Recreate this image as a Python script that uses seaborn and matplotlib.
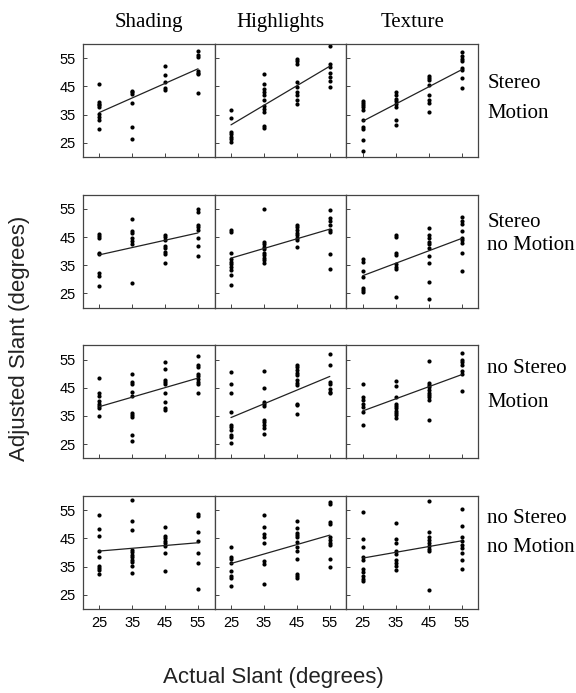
import matplotlib
matplotlib.use("Agg")
import matplotlib.pyplot as plt
import seaborn as sns
import pandas as pd

# actual slant levels (x) and panel layout
actual = [25, 35, 45, 55]
cues = ["Shading", "Highlights", "Texture"]
displays = ["Stereo Motion", "Stereo no Motion", "no Stereo Motion", "no Stereo no Motion"]
row_lines = [("Stereo", "Motion"), ("Stereo", "no Motion"),
             ("no Stereo", "Motion"), ("no Stereo", "no Motion")]

# adjusted slant readings, one sub-list per actual slant level
sm_shading = [
    [45.9, 39.4, 38.9, 38.3, 37.7, 35.1, 34.2, 33.2, 30.0],
    [43.5, 43.0, 42.4, 39.1, 30.7, 26.3],
    [52.3, 49.0, 46.5, 44.5, 43.8],
    [57.6, 56.2, 55.5, 50.6, 49.6, 49.2, 42.6],
]
sm_highlights = [
    [36.5, 33.6, 28.9, 28.1, 27.2, 26.2, 25.4],
    [49.4, 45.9, 44.1, 43.0, 41.8, 40.3, 37.9, 37.1, 35.9, 30.9, 30.1],
    [54.6, 53.8, 52.9, 46.5, 44.7, 43.0, 41.8, 40.3, 38.6],
    [59.3, 52.9, 51.7, 49.6, 48.2, 47.0, 44.9],
]
sm_texture = [
    [39.8, 39.1, 38.3, 37.5, 36.5, 33.2, 30.7, 29.7, 26.0, 21.9],
    [43.0, 41.8, 40.6, 39.8, 38.6, 37.7, 33.2, 31.3],
    [48.8, 48.0, 47.3, 45.6, 41.8, 40.3, 39.1, 35.9],
    [57.0, 55.8, 54.6, 53.8, 51.5, 50.8, 48.0, 44.5],
]
snm_shading = [
    [46.1, 45.3, 44.5, 39.4, 38.9, 32.1, 31.3, 27.7],
    [51.5, 47.3, 46.5, 44.5, 43.5, 42.6, 28.6],
    [45.9, 44.9, 44.1, 41.8, 41.0, 39.7, 38.9, 35.7],
    [55.0, 53.8, 49.4, 48.5, 47.6, 44.7, 41.8, 38.3],
]
snm_highlights = [
    [47.6, 46.8, 39.4, 37.1, 36.3, 35.4, 34.4, 33.2, 31.6, 28.1],
    [55.0, 43.3, 42.4, 41.4, 40.6, 39.4, 38.6, 37.7, 36.8, 35.8],
    [49.4, 48.5, 47.6, 46.5, 45.6, 44.7, 43.8, 41.4],
    [54.6, 51.7, 50.8, 49.4, 47.6, 46.8, 39.1, 33.6],
]
snm_texture = [
    [37.1, 36.3, 32.8, 30.7, 26.9, 26.2, 25.4],
    [45.9, 44.9, 39.4, 38.6, 35.4, 34.4, 33.6, 23.7],
    [48.2, 45.6, 44.7, 43.3, 42.4, 41.2, 38.3, 35.8, 28.9, 23.1],
    [52.0, 50.8, 49.6, 47.3, 44.7, 43.8, 43.0, 39.4, 32.8],
]
nsm_shading = [
    [48.6, 43.0, 42.0, 40.4, 39.4, 38.5, 37.7, 35.0],
    [50.0, 47.0, 46.5, 43.5, 42.0, 36.2, 35.4, 34.5, 28.3, 26.0],
    [54.3, 51.7, 47.9, 47.0, 46.2, 43.2, 40.0, 37.7, 37.1],
    [56.2, 53.2, 52.3, 50.0, 49.0, 48.2, 47.0, 46.2, 43.2],
]
nsm_highlights = [
    [50.6, 46.2, 43.2, 36.5, 31.8, 31.0, 30.1, 28.3, 27.5, 25.4],
    [51.1, 44.9, 40.0, 39.2, 38.5, 33.6, 32.7, 31.8, 30.7, 28.7],
    [53.2, 52.3, 51.4, 50.2, 49.4, 47.6, 46.7, 45.9, 39.4, 38.9, 35.7],
    [56.8, 52.9, 47.0, 46.2, 44.4, 43.5, 43.0],
]
nsm_texture = [
    [46.2, 41.8, 40.8, 39.4, 38.3, 36.5, 31.8],
    [47.3, 45.5, 41.8, 39.4, 38.5, 37.7, 36.8, 36.2, 35.4, 34.2],
    [54.6, 46.7, 45.9, 45.1, 44.1, 43.2, 42.4, 41.6, 40.6, 33.4],
    [57.2, 54.9, 54.1, 53.2, 50.9, 50.0, 43.9],
]
nsnm_shading = [
    [53.2, 48.2, 45.9, 40.7, 38.3, 35.4, 34.5, 33.7, 32.5],
    [58.7, 51.3, 48.0, 41.0, 40.1, 39.2, 38.4, 37.5, 36.5, 35.4, 32.8],
    [49.2, 45.9, 45.1, 44.2, 43.3, 42.4, 40.0, 33.4],
    [53.8, 52.9, 47.4, 44.1, 39.8, 36.3, 27.2],
]
nsnm_highlights = [
    [41.9, 38.6, 37.7, 36.3, 33.4, 31.6, 31.0, 28.1],
    [53.2, 48.9, 46.6, 45.6, 43.5, 36.9, 36.1, 28.9],
    [51.3, 48.6, 47.0, 46.2, 45.4, 43.9, 41.9, 40.7, 37.7, 32.5, 31.6, 31.0],
    [57.9, 57.1, 50.9, 50.3, 45.4, 44.5, 43.5, 42.7, 37.7, 34.9],
]
nsnm_texture = [
    [54.4, 44.7, 41.9, 38.4, 37.5, 34.2, 33.0, 31.6, 30.7, 29.9],
    [50.6, 44.7, 43.5, 40.4, 39.6, 37.5, 36.3, 35.4, 33.9],
    [58.3, 47.4, 45.4, 44.5, 43.3, 42.4, 41.2, 40.4, 26.9],
    [55.6, 49.4, 45.4, 44.2, 42.7, 41.5, 40.0, 37.2, 34.2],
]

panels = [
    [sm_shading, sm_highlights, sm_texture],
    [snm_shading, snm_highlights, snm_texture],
    [nsm_shading, nsm_highlights, nsm_texture],
    [nsnm_shading, nsnm_highlights, nsnm_texture],
]

rows = []
for disp, row in zip(displays, panels):
    for cue, groups in zip(cues, row):
        for x, ys in zip(actual, groups):
            for y in ys:
                rows.append({"display": disp, "cue": cue, "actual": x, "adjusted": y})
df = pd.DataFrame(rows)

sns.set_theme(style="white")
plt.rcParams["font.family"] = ["Liberation Sans", "DejaVu Sans"]
plt.rcParams["text.color"] = "black"
plt.rcParams["xtick.color"] = "black"
plt.rcParams["ytick.color"] = "black"

g = sns.FacetGrid(df, row="display", col="cue", row_order=displays, col_order=cues,
                  height=1.5, aspect=1.2, despine=False, sharex=True, sharey=True)
g.map(sns.regplot, "actual", "adjusted", ci=None, color="black",
      scatter_kws={"s": 9, "linewidths": 0, "alpha": 1},
      line_kws={"color": "#222222", "lw": 0.9})

fig = g.figure
fig.set_size_inches(5.76, 6.93)
g.set(xlim=(20, 60), ylim=(20, 60), xticks=actual, yticks=actual)
g.set_axis_labels("", "")
g.set_titles("")

for ax in g.axes.flat:
    ax.tick_params(direction="in", length=3, width=0.7, color="#444444",
                   labelcolor="black", labelsize=10.5, pad=5, left=True, bottom=True)
    for sp in ax.spines.values():
        sp.set_color("#444444")
        sp.set_linewidth(0.9)

for j, cue in enumerate(cues):
    g.axes[0, j].set_title(cue, family="Liberation Serif", fontsize=15, pad=12,
                           color="black")

row_pos = [(0.652, 0.384), (0.754, 0.553), (0.795, 0.49), (0.805, 0.549)]
for i, (l1, l2) in enumerate(row_lines):
    ax = g.axes[i, -1]
    ax.text(1.07, row_pos[i][0], l1, transform=ax.transAxes, va="center", ha="left",
            family="Liberation Serif", fontsize=15, color="black")
    ax.text(1.07, row_pos[i][1], l2, transform=ax.transAxes, va="center", ha="left",
            family="Liberation Serif", fontsize=15, color="black")

fig.subplots_adjust(left=0.1436, right=0.830, top=0.9365, bottom=0.1212,
                    wspace=0, hspace=0.336)
fig.text(0.033, 0.512, "Adjusted Slant (degrees)", rotation=90, ha="center", va="center",
         fontsize=16, color="#222222")
fig.text(0.474, 0.023, "Actual Slant (degrees)", ha="center", va="center",
         fontsize=16, color="#222222")

fig.savefig("out.png", dpi=100)
